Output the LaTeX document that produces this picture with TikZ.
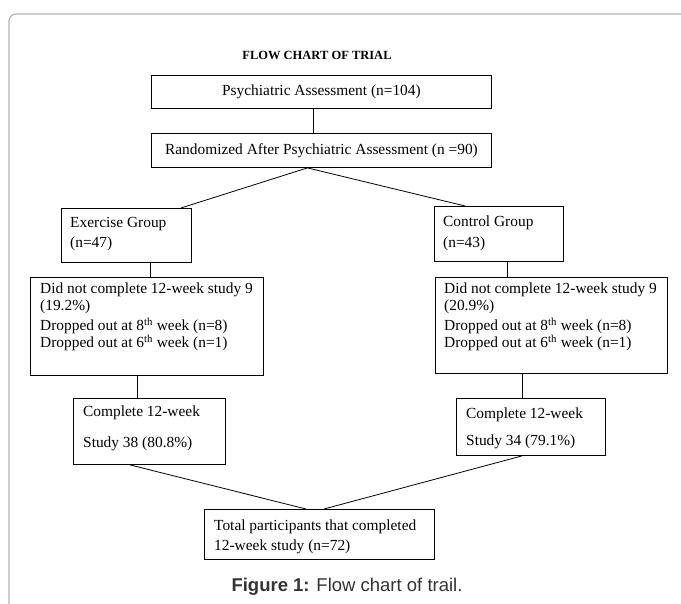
\documentclass[tikz,border=0pt]{standalone}
\usepackage{fontspec}
\setmainfont{Liberation Serif}
\newfontfamily\capfont{Liberation Sans}
\definecolor{framec}{HTML}{B4B4B4}
\definecolor{capc}{HTML}{333333}
\begin{document}
\begin{tikzpicture}[x=1pt,y=-1pt,
  box/.style={draw=black, line width=0.9pt, rectangle, inner sep=0pt, anchor=north west,
              font=\fontsize{15.4}{17}\selectfont},
  txt/.style={anchor=base west, inner sep=0pt, font=\fontsize{15.4}{17}\selectfont},
  link/.style={draw=black, line width=0.8pt}]
\clip (0,0) rectangle (681,604);
\fill[white] (0,0) rectangle (681,604);
\draw[framec, line width=1.2pt, rounded corners=7pt] (9,630) -- (9,14) -- (700,14);

\node[font=\bfseries\fontsize{12.5}{14}\selectfont] (title) at (317,55) {FLOW CHART OF TRIAL};

\node[box, minimum width=340pt, minimum height=33pt] (b1) at (151,75) {Psychiatric Assessment (n=104)};
\node[box, minimum width=340pt, minimum height=34pt] (b2) at (151,133) {Randomized After Psychiatric Assessment (n =90)};

\node[box, minimum width=130pt, minimum height=54pt] (ex) at (61,208) {};
\node[txt] (ex1) at (70,228) {Exercise Group};
\node[txt] (ex2) at (70,248) {(n=47)};

\node[box, minimum width=129pt, minimum height=55pt] (ct) at (434,206) {};
\node[txt] (ct1) at (443,227) {Control Group};
\node[txt] (ct2) at (443,248) {(n=43)};

\node[box, minimum width=233pt, minimum height=98pt] (dl) at (30,277) {};
\node[txt] (dl1) at (40,294) {Did not complete 12-week study 9};
\node[txt] (dl2) at (40,311) {(19.2\%)};
\node[txt] (dl3) at (40,331) {Dropped out at 8\textsuperscript{th} week (n=8)};
\node[txt] (dl4) at (40,348) {Dropped out at 6\textsuperscript{th} week (n=1)};

\node[box, minimum width=232pt, minimum height=96pt] (dr) at (435,277) {};
\node[txt] (dr1) at (444,294) {Did not complete 12-week study 9};
\node[txt] (dr2) at (444,311) {(20.9\%)};
\node[txt] (dr3) at (444,331) {Dropped out at 8\textsuperscript{th} week (n=8)};
\node[txt] (dr4) at (444,348) {Dropped out at 6\textsuperscript{th} week (n=1)};

\node[box, minimum width=152pt, minimum height=66pt] (cl) at (73,398) {};
\node[txt] (cl1) at (83,417) {Complete 12-week};
\node[txt] (cl2) at (83,447) {Study 38 (80.8\%)};

\node[box, minimum width=149pt, minimum height=57pt] (cr) at (456,398) {};
\node[txt] (cr1) at (466,418) {Complete 12-week};
\node[txt] (cr2) at (466,446) {Study 34 (79.1\%)};

\node[box, minimum width=230pt, minimum height=50pt] (tot) at (204,509) {};
\node[txt] (tot1) at (214,530) {Total participants that completed};
\node[txt] (tot2) at (214,550) {12-week study (n=72)};

\node[font=\capfont\fontsize{18.5}{21}\selectfont, text=capc] (cap) at (347,587) {\textbf{Figure 1:} Flow chart of trail.};

\draw[link] ([xshift=-8pt]b1.south) -- ([xshift=-8pt]b2.north);
\draw[link] ([xshift=-14pt]b2.south) -- ([xshift=-11pt]ex.north east);
\draw[link] ([xshift=-14pt]b2.south) -- ([xshift=31pt]ct.north west);
\draw[link] ([xshift=89pt]ex.south west) -- ([xshift=89pt]ex.south west |- dl.north);
\draw[link] ([xshift=73pt]ct.south west) -- ([xshift=73pt]ct.south west |- dr.north);
\draw[link] ([xshift=107pt]dl.south west) -- ([xshift=107pt]dl.south west |- cl.north);
\draw[link] ([xshift=87pt]dr.south west) -- ([xshift=87pt]dr.south west |- cr.north);
\draw[link] ([xshift=57pt]cl.south west) -- ([xshift=102pt]tot.north west);
\draw[link] ([xshift=66pt]cr.south west) -- ([xshift=120pt]tot.north west);
\end{tikzpicture}
\end{document}
